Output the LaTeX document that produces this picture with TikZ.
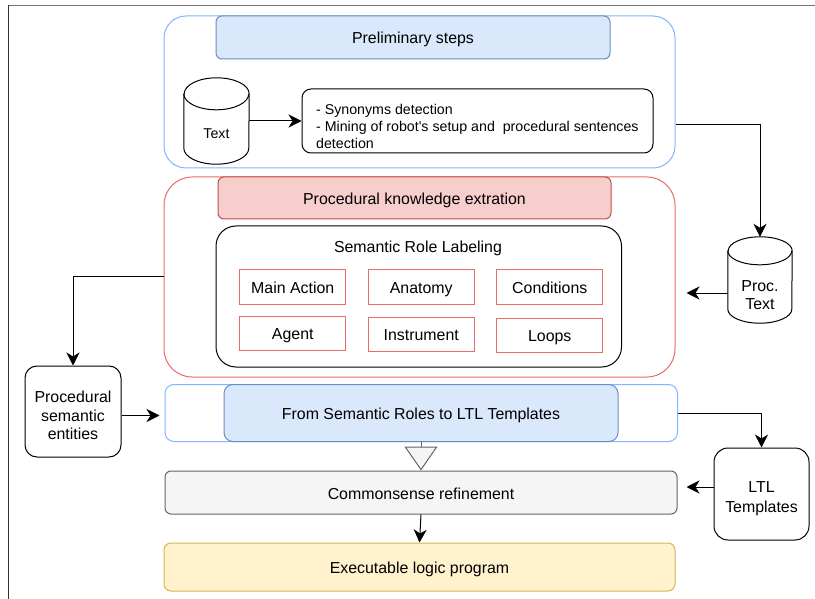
\documentclass[tikz,border=0pt]{standalone}
\usepackage{fontspec}
\setmainfont{Liberation Sans}
\usetikzlibrary{arrows.meta,calc}

\definecolor{outerblue}{HTML}{7EB6FF}
\definecolor{outerred}{HTML}{EA6B66}
\definecolor{hdrbluefill}{HTML}{DAE8FC}
\definecolor{hdrblueline}{HTML}{6C8EBF}
\definecolor{hdrredfill}{HTML}{F8CECC}
\definecolor{hdrredline}{HTML}{B85450}
\definecolor{grayfill}{HTML}{F5F5F5}
\definecolor{grayline}{HTML}{666666}
\definecolor{yelfill}{HTML}{FFF2CC}
\definecolor{yelline}{HTML}{D6B656}

\tikzset{
  txtbig/.style={font=\fontsize{15.9}{18.5}\selectfont},
  txtsmall/.style={font=\fontsize{14.2}{17}\selectfont},
  oneline/.style={text height=14.5pt, text depth=1.5pt},
  box/.style={rectangle, inner sep=0pt, align=center, txtbig, line width=1pt},
  container/.style={box, draw=#1, fill=white},
  header/.style n args={2}{box, oneline, draw=#2, fill=#1},
  plainbox/.style={box, draw=black, fill=white},
  rolebox/.style={box, oneline, draw=outerred, fill=white, minimum width=106pt, minimum height=34pt},
  conn/.style={line width=1pt, -{Stealth[length=13pt,width=13pt,inset=4pt]}},
}

\begin{document}
\begin{tikzpicture}[x=1pt,y=-1pt]
\useasboundingbox (0,0) rectangle (815,599);

% page frame (top and left edges)
\draw[line width=1.6pt, black!55] (8.5,5.5) -- (815,5.5);
\draw[line width=1.4pt, black!80] (8.5,5.5) -- (8.5,599);

% ---------- preliminary steps ----------
\node[container=outerblue, rounded corners=22pt, minimum width=511pt, minimum height=152pt] (prelim) at (419.5,92) {};
\node[header={hdrbluefill}{hdrblueline}, rounded corners=6pt, minimum width=394pt, minimum height=43pt] (prelimhdr) at (413,37.5) {Preliminary steps};

% text database (cylinder)
\node[inner sep=0pt, minimum width=65pt, minimum height=86pt] (txt) at (216.5,121) {};
\filldraw[fill=white, draw=black, line width=1pt]
  ($(txt.north west)+(0,16)$) -- ($(txt.south west)+(0,-16)$)
  arc[start angle=180, end angle=360, x radius=32.5pt, y radius=16pt]
  -- ($(txt.north east)+(0,16)$)
  arc[start angle=0, end angle=180, x radius=32.5pt, y radius=16pt] -- cycle;
\draw[line width=1pt] ($(txt.north west)+(0,16)$)
  arc[start angle=180, end angle=360, x radius=32.5pt, y radius=16pt];
\node[txtsmall] (txtlbl) at (216.5,134) {Text};

\node[plainbox, rounded corners=9pt, minimum width=351pt, minimum height=64pt] (lst) at (477.5,121) {};
\node[txtsmall, anchor=west, align=left, inner sep=0pt] (lsttxt) at (316,126)
  {- Synonyms detection\\- Mining of robot\textquotesingle s setup and\ \ procedural sentences\\detection};

% ---------- procedural knowledge extraction ----------
\node[container=outerred, rounded corners=28pt, minimum width=511pt, minimum height=200pt] (proc) at (419.5,277) {};
\node[header={hdrredfill}{hdrredline}, rounded corners=6pt, minimum width=393pt, minimum height=42pt] (prochdr) at (414.5,198) {Procedural knowledge extration};

\node[plainbox, rounded corners=20pt, minimum width=405.5pt, minimum height=141pt] (srl) at (418.75,296.5) {};
\node[txtbig, oneline] (srltitle) at (418,246.5) {Semantic Role Labeling};

\node[rolebox] (r11) at (292.75,287) {Main Action};
\node[rolebox] (r12) at (421.25,287) {Anatomy};
\node[rolebox] (r13) at (549.75,287) {Conditions};
\node[rolebox] (r21) at (292.75,333) {Agent};
\node[rolebox] (r22) at (421.25,334) {Instrument};
\node[rolebox] (r23) at (549.75,335) {Loops};

% procedural text database (cylinder)
\node[inner sep=0pt, minimum width=64pt, minimum height=86pt] (ptxt) at (760,280) {};
\filldraw[fill=white, draw=black, line width=1pt]
  ($(ptxt.north west)+(0,14)$) -- ($(ptxt.south west)+(0,-14)$)
  arc[start angle=180, end angle=360, x radius=32pt, y radius=14pt]
  -- ($(ptxt.north east)+(0,14)$)
  arc[start angle=0, end angle=180, x radius=32pt, y radius=14pt] -- cycle;
\draw[line width=1pt] ($(ptxt.north west)+(0,14)$)
  arc[start angle=180, end angle=360, x radius=32pt, y radius=14pt];
\node[box] (ptxtlbl) at (760,295) {Proc.\\Text};

% ---------- semantic entities and LTL ----------
\node[plainbox, rounded corners=12pt, minimum width=96pt, minimum height=91pt] (pse) at (73,411.5) {};
\node[box] (pselbl) at (73,415.5) {Procedural\\semantic\\entities};

\node[container=outerblue, rounded corners=9pt, minimum width=512.5pt, minimum height=57pt] (ltl) at (421.25,413) {};
\node[header={hdrbluefill}{hdrblueline}, rounded corners=9pt, minimum width=394pt, minimum height=57pt] (ltlhdr) at (421,413) {From Semantic Roles to LTL Templates};

\node[plainbox, rounded corners=14pt, minimum width=95pt, minimum height=92pt] (tmpl) at (761.5,494) {};
\node[box, font=\fontsize{15.9}{19.5}\selectfont] (tmpllbl) at (761.5,498.5) {LTL\\Templates};

\node[header={grayfill}{grayline}, rounded corners=6pt, minimum width=512pt, minimum height=43pt] (common) at (421,492.5) {Commonsense refinement};
\node[header={yelfill}{yelline}, rounded corners=7pt, minimum width=511pt, minimum height=48pt] (exec) at (419.5,567) {Executable logic program};

% ---------- connectors ----------
\coordinate (prelimout) at ($(prelim.east)+(0,33)$);
\coordinate (ptxtout) at ($(ptxt.west)+(0,13)$);
\coordinate (pseout) at ($(pse.east)+(0,4)$);
\coordinate (tmplout) at ($(tmpl.west)+(0,-7)$);

\draw[conn] (txt.east) -- (lst.west);
\draw[conn] (prelimout) -| (ptxt.north);
\draw[conn, shorten >=11pt] (ptxtout) -- (ptxtout -| proc.east);
\draw[conn] (proc.west) -| (pse.north);
\draw[conn, shorten >=5pt] (pseout) -- (pseout -| ltl.west);
\draw[conn] (ltl.east) -| (tmpl.north);
\draw[conn, shorten >=9pt] (tmplout) -- (tmplout -| common.east);
\draw[line width=1pt, draw=grayline, -{Triangle[length=24pt,width=33pt,fill=grayfill,line width=1pt]}] (ltlhdr.south) -- (common.north);
\draw[conn] (common.south) -- (exec.north);
\end{tikzpicture}
\end{document}
